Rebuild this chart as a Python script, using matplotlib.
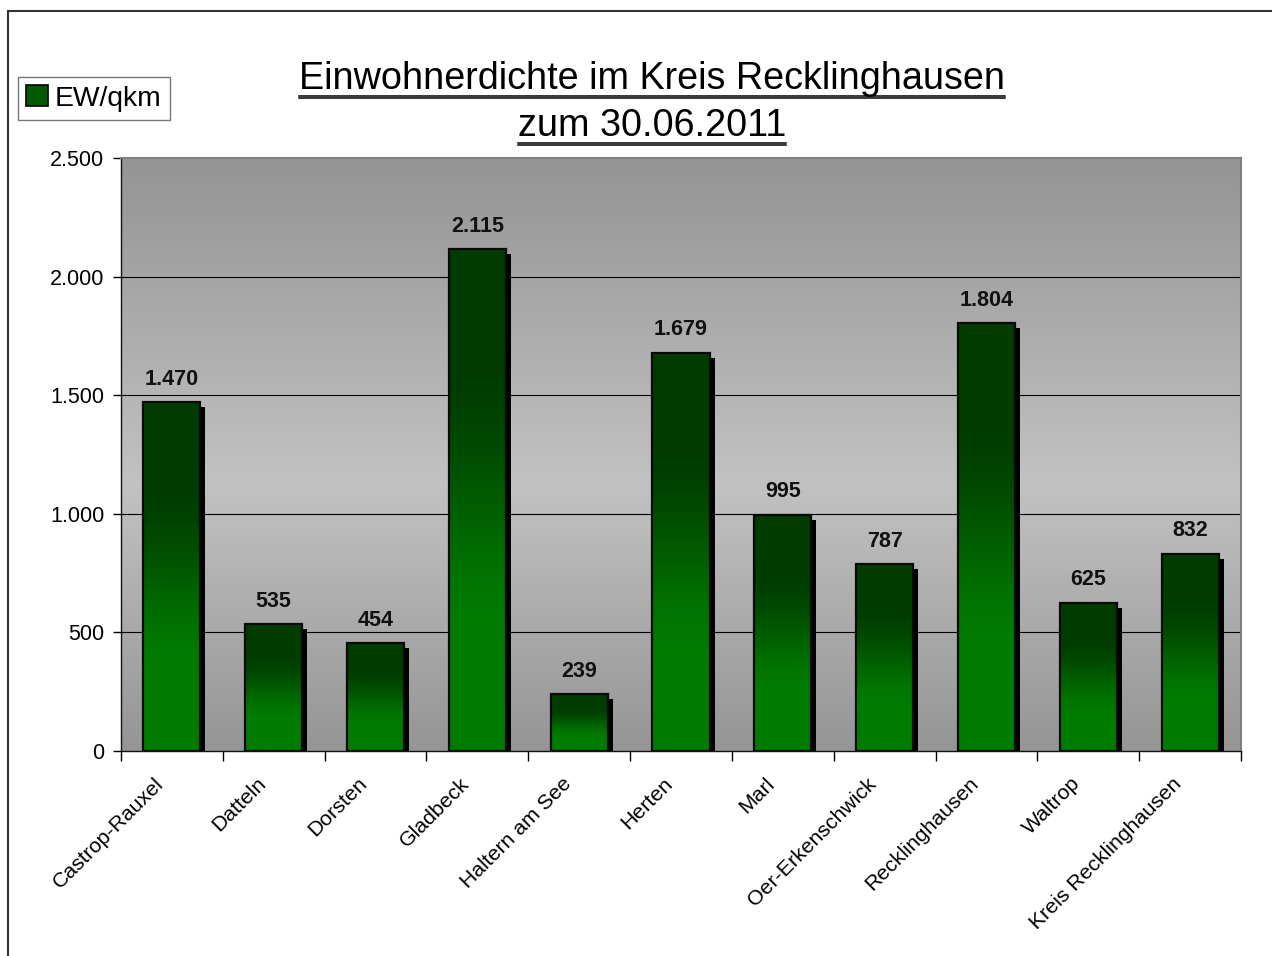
import numpy as np
import matplotlib
matplotlib.use("Agg")
import matplotlib.pyplot as plt
from matplotlib.patches import Rectangle, Patch
from matplotlib.lines import Line2D
from matplotlib.transforms import offset_copy, ScaledTranslation
from matplotlib.ticker import FuncFormatter
from matplotlib.colors import LinearSegmentedColormap

plt.rcParams['font.family'] = ['Liberation Sans', 'DejaVu Sans']

categories = ["Castrop-Rauxel", "Datteln", "Dorsten", "Gladbeck", "Haltern am See",
              "Herten", "Marl", "Oer-Erkenschwick", "Recklinghausen", "Waltrop",
              "Kreis Recklinghausen"]
values = [1470, 535, 454, 2115, 239, 1679, 995, 787, 1804, 625, 832]
yticks = [0, 500, 1000, 1500, 2000, 2500]
series_name = "EW/qkm"
title_lines = ["Einwohnerdichte im Kreis Recklinghausen", "zum 30.06.2011"]

def fmt(v):
    return f"{int(v):,}".replace(",", ".")

W, H = 1272, 956
fig = plt.figure(figsize=(W / 100, H / 100), dpi=100)
ax = fig.add_axes([121 / W, 1 - 751 / H, (1241 - 121) / W, (751 - 158) / H])

n = len(categories)
x = np.arange(n)
xmin, xmax = -0.5, n - 0.5
ymax = yticks[-1]

# background gradient (gray, lighter in the middle)
bg_cmap = LinearSegmentedColormap.from_list(
    "bg", [(0.0, "#959595"), (0.45, "#c2c2c2"), (1.0, "#949494")])
grad = np.linspace(0, 1, 256).reshape(-1, 1)
ax.imshow(grad, extent=[xmin, xmax, 0, ymax], origin="lower", aspect="auto",
          cmap=bg_cmap, zorder=0, interpolation="bilinear")

# grid
for yt in yticks[1:-1]:
    ax.axhline(yt, color="black", lw=0.8, zorder=1)

# bars
bw = 0.56
t = np.linspace(0, 1, 256)  # 0 bottom, 1 top
s = np.clip((t - 0.22) / (0.78 - 0.22), 0, 1)
s = s * s * (3 - 2 * s)
bar_cmap = LinearSegmentedColormap.from_list("bar", ["#007c00", "#003c00"])
bar_grad = s.reshape(-1, 1)

shadow_tr = offset_copy(ax.transData, fig=fig, x=5, y=-5, units="dots")
bars = ax.bar(x, values, width=bw, facecolor="none", edgecolor="#0a0a0a",
              linewidth=1.6, zorder=4)
for xi, v, b in zip(x, values, bars):
    sh = Rectangle((xi - bw / 2, 0), bw, v, transform=shadow_tr,
                   facecolor="black", edgecolor="none", zorder=2)
    ax.add_patch(sh)
    im = ax.imshow(bar_grad, extent=[xi - bw / 2, xi + bw / 2, 0, v],
                   origin="lower", aspect="auto", cmap=bar_cmap, vmin=0, vmax=1,
                   zorder=3, interpolation="bilinear")
    im.set_clip_path(b)
    ax.annotate(fmt(v), (xi, v), xytext=(0, 9), textcoords="offset points",
                ha="center", va="bottom", fontsize=15.5, fontweight="bold",
                color="#111111", zorder=5)

ax.set_xlim(xmin, xmax)
ax.set_ylim(0, ymax)

# axes styling
for side in ["top", "right"]:
    ax.spines[side].set_color("#808080")
    ax.spines[side].set_linewidth(1.5)
for side in ["left", "bottom"]:
    ax.spines[side].set_color("#111111")
    ax.spines[side].set_linewidth(1.0)

ax.set_yticks(yticks)
ax.yaxis.set_major_formatter(FuncFormatter(lambda v, p: fmt(v)))
ax.tick_params(axis="y", direction="out", length=6, width=1, labelsize=15.5, pad=6)

ax.set_xticks(np.arange(n + 1) - 0.5, minor=True)
ax.tick_params(axis="x", which="minor", direction="out", length=7, width=1)
ax.set_xticks(x)
ax.set_xticklabels(categories, rotation=45, ha="right", va="center",
                   rotation_mode="anchor", fontsize=15.3)
ax.tick_params(axis="x", which="major", length=0, pad=22)
lab_off = ScaledTranslation(-11 / 100, 1 / 100, fig.dpi_scale_trans)
for lab in ax.get_xticklabels():
    lab.set_transform(lab.get_transform() + lab_off)

# legend
leg = fig.legend(handles=[Patch(facecolor="#005a00", edgecolor="black", linewidth=1.2)],
                 labels=[series_name], loc="upper left",
                 bbox_to_anchor=(18 / W, 1 - 77 / H), fontsize=20.3,
                 frameon=True, fancybox=False, borderpad=0.3,
                 handlelength=0.75, handleheight=0.75, handletextpad=0.25,
                 borderaxespad=0)
leg.get_frame().set_edgecolor("#555555")
leg.get_frame().set_linewidth(1.0)

# titles with double underline
title_cx = 652
baselines = [89, 136]
texts = []
for line, by in zip(title_lines, baselines):
    tx = fig.text(title_cx / W, 1 - by / H, line, ha="center", va="baseline",
                  fontsize=27.2, color="black")
    texts.append((tx, by))

fig.canvas.draw()
for tx, by in texts:
    bb = tx.get_window_extent()
    for dy in (6.5, 9):
        yy = 1 - (by + dy) / H
        fig.add_artist(Line2D([bb.x0 / W, bb.x1 / W], [yy, yy],
                              transform=fig.transFigure, color="black", lw=1.1))

# outer frame
fig.add_artist(Line2D([8 / W, 8 / W], [0, 1 - 11 / H], transform=fig.transFigure,
                      color="#333333", lw=1.5))
fig.add_artist(Line2D([8 / W, 1], [1 - 11 / H, 1 - 11 / H], transform=fig.transFigure,
                      color="#333333", lw=1.5))

fig.savefig("out.png", dpi=100)
